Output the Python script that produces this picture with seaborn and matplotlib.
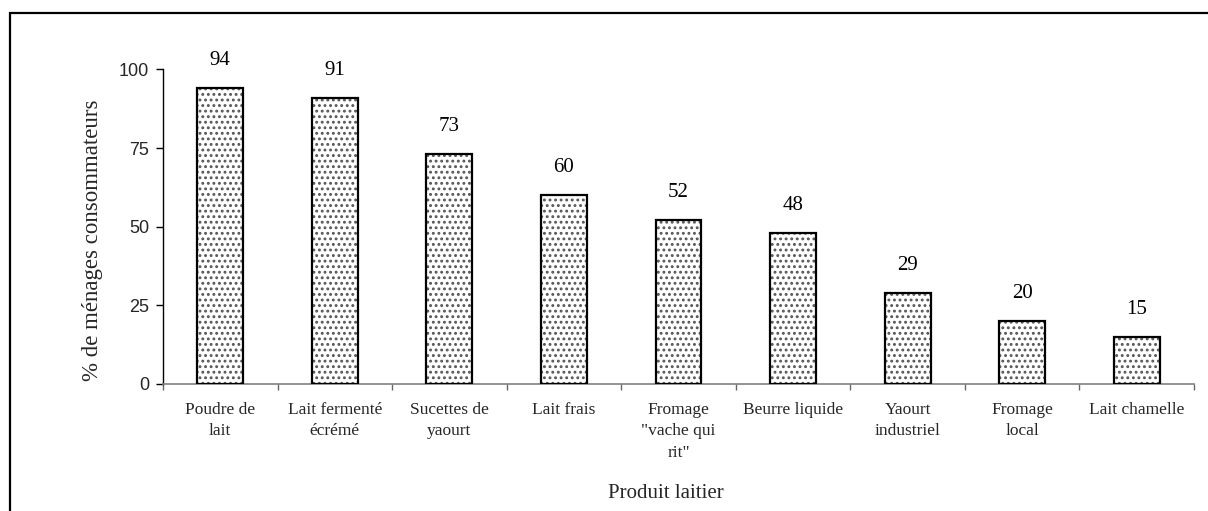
import matplotlib
matplotlib.use("Agg")
import matplotlib.pyplot as plt
from matplotlib.patches import Rectangle
import seaborn as sns

categories = ["Poudre de\nlait", "Lait fermenté\nécrémé", "Sucettes de\nyaourt",
              "Lait frais", "Fromage\n\"vache qui\nrit\"", "Beurre liquide",
              "Yaourt\nindustriel", "Fromage\nlocal", "Lait chamelle"]
values = [94, 91, 73, 60, 52, 48, 29, 20, 15]
yticks = [0, 25, 50, 75, 100]

sns.set_style("white")
plt.rcParams['font.family'] = ['Liberation Serif', 'DejaVu Serif']
plt.rcParams['hatch.linewidth'] = 1.3

fig = plt.figure(figsize=(12.08, 5.11), dpi=100)
W, H = 1208, 511
ax = fig.add_axes([163 / W, 1 - 384 / H, (1194 - 163) / W, (384 - 69.5) / H])

sns.barplot(x=list(range(len(values))), y=values, ax=ax, color="white",
            width=0.4, edgecolor="#555555", linewidth=0, hatch="...",
            native_scale=False)

bars = list(ax.patches)
for p in bars:
    ax.add_patch(Rectangle(p.get_xy(), p.get_width(), p.get_height(),
                           fill=False, edgecolor="black", linewidth=1.6, zorder=3))

for i, v in enumerate(values):
    ax.annotate(str(v), (i, v), xytext=(0, 20), textcoords="offset points",
                ha="center", va="center", fontsize=15, color="black")

ax.set_xlim(-0.5, len(values) - 0.5)
ax.set_ylim(0, 100)
ax.set_yticks(yticks)
ax.set_yticklabels([str(t) for t in yticks], family=['Liberation Sans', 'DejaVu Sans'], fontsize=13)
ax.set_xticks(range(len(values)))
ax.set_xticklabels(categories, fontsize=12.5, linespacing=1.45)
ax.set_xticks([i - 0.5 for i in range(len(values) + 1)], minor=True)
ax.tick_params(axis="x", which="major", length=0, pad=13)
ax.tick_params(axis="x", which="minor", length=4.5, width=1, color="#666666", direction="out", bottom=True)
ax.tick_params(axis="y", length=5, width=1, color="black", direction="out", pad=5, left=True)

for s in ["top", "right"]:
    ax.spines[s].set_visible(False)
ax.spines["left"].set_color("black")
ax.spines["left"].set_linewidth(1)
ax.spines["bottom"].set_color("#808080")
ax.spines["bottom"].set_linewidth(1.2)

ax.set_xlabel("Produit laitier", fontsize=15, va="center")
ax.xaxis.set_label_coords(0.488, -0.347)
ax.set_ylabel("% de ménages consommateurs", fontsize=16.5, va="center")
ax.yaxis.set_label_coords(-0.068, 0.458)

fig.add_artist(Rectangle((10 / W, -0.2), 1.5, 1.2 - 13 / H + 0.0,
                         transform=fig.transFigure, fill=False,
                         edgecolor="black", linewidth=1.6))

fig.savefig("out.png", dpi=100, facecolor="white")
